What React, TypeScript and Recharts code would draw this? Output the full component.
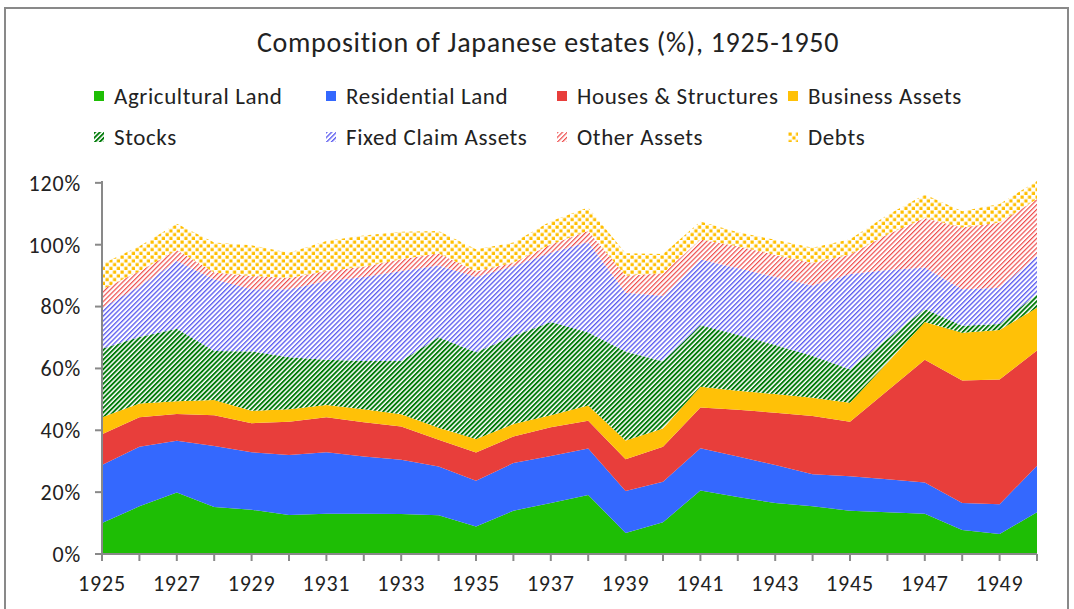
import React from 'react';
import { AreaChart, Area, XAxis, YAxis } from 'recharts';

const years = [1925, 1926, 1927, 1928, 1929, 1930, 1931, 1932, 1933, 1934, 1935, 1936, 1937, 1938, 1939, 1940, 1941, 1942, 1943, 1944, 1945, 1946, 1947, 1948, 1949, 1950];

const agricultural = [10.0, 15.4, 19.9, 15.2, 14.3, 12.6, 13.0, 13.0, 12.9, 12.5, 8.9, 14.0, 16.5, 19.1, 6.8, 10.3, 20.5, 18.4, 16.5, 15.4, 14.0, 13.5, 13.0, 7.8, 6.5, 13.5];
const residential = [18.8, 19.3, 16.7, 19.7, 18.6, 19.4, 19.9, 18.5, 17.6, 15.8, 14.8, 15.4, 15.2, 15.0, 13.6, 13.1, 13.7, 13.1, 12.3, 10.4, 11.1, 10.7, 10.1, 8.7, 9.6, 15.0];
const houses = [9.9, 9.5, 8.7, 10.0, 9.4, 10.8, 11.3, 11.1, 10.7, 8.6, 9.1, 8.6, 9.3, 9.0, 10.2, 11.3, 13.2, 15.1, 16.9, 18.8, 17.7, 28.6, 39.7, 39.6, 40.3, 37.3];
const business = [5.5, 4.5, 4.1, 4.9, 4.0, 4.0, 4.0, 4.2, 4.0, 3.9, 4.4, 4.0, 3.9, 4.9, 6.1, 5.9, 6.7, 6.2, 6.0, 5.9, 6.1, 9.0, 12.2, 15.4, 16.0, 13.8];
const stocks = [22.2, 21.5, 23.4, 15.8, 19.2, 16.8, 14.6, 15.6, 17.2, 29.3, 28.0, 28.5, 30.1, 23.6, 28.8, 21.7, 19.9, 18.0, 15.9, 13.5, 10.8, 7.7, 4.2, 2.3, 2.0, 4.4];
const fixedClaim = [13.1, 16.4, 21.9, 23.2, 20.1, 22.0, 25.5, 27.2, 29.1, 23.2, 24.4, 22.5, 22.4, 29.3, 19.0, 21.2, 21.3, 21.6, 22.0, 22.8, 30.8, 22.3, 13.4, 11.8, 11.7, 12.4];
const otherAssets = [6.0, 4.8, 3.6, 2.2, 4.3, 3.6, 3.2, 3.3, 3.8, 3.9, 1.7, 1.2, 2.7, 3.5, 5.5, 7.3, 6.4, 7.1, 7.1, 7.3, 6.3, 11.5, 16.0, 20.0, 21.1, 18.4];
const debts = [8.3, 8.1, 8.5, 9.7, 9.9, 8.2, 9.7, 10.1, 8.9, 7.2, 7.2, 6.5, 7.5, 7.6, 7.2, 6.2, 5.8, 4.5, 4.9, 4.9, 5.0, 6.3, 7.6, 5.2, 6.0, 5.8];

const yTicks = [0, 20, 40, 60, 80, 100, 120];
const xLabelYears = [1925, 1927, 1929, 1931, 1933, 1935, 1937, 1939, 1941, 1943, 1945, 1947, 1949];

const data = years.map((year, i) => ({
  year,
  agricultural: agricultural[i],
  residential: residential[i],
  houses: houses[i],
  business: business[i],
  stocks: stocks[i],
  fixedClaim: fixedClaim[i],
  otherAssets: otherAssets[i],
  debts: debts[i],
}));

const FONT = 'Carlito, Calibri, Lato, sans-serif';
const AXIS = '#898989';

type SeriesDef = { key: string; name: string; fill: string; pattern?: string };

const series: SeriesDef[] = [
  { key: 'agricultural', name: 'Agricultural Land', fill: '#1EBE05' },
  { key: 'residential', name: 'Residential Land', fill: '#3468FE' },
  { key: 'houses', name: 'Houses & Structures', fill: '#E83E3B' },
  { key: 'business', name: 'Business Assets', fill: '#FFC107' },
  { key: 'stocks', name: 'Stocks', fill: '#00800A', pattern: 'stripeGreen' },
  { key: 'fixedClaim', name: 'Fixed Claim Assets', fill: '#5A5AF0', pattern: 'stripeBlue' },
  { key: 'otherAssets', name: 'Other Assets', fill: '#EE4B4B', pattern: 'stripeRed' },
  { key: 'debts', name: 'Debts', fill: '#FFC000', pattern: 'confetti' },
];

function Patterns({ prefix }: { prefix: string }) {
  return (
    <defs>
      <pattern id={`${prefix}stripeGreen`} patternUnits="userSpaceOnUse" width="3.4" height="3.4" patternTransform="rotate(45)">
        <rect x="0" y="0" width="3.4" height="3.4" fill="#ffffff" />
        <rect x="0" y="0" width="1.9" height="3.4" fill="#007A08" />
      </pattern>
      <pattern id={`${prefix}stripeBlue`} patternUnits="userSpaceOnUse" width="3.4" height="3.4" patternTransform="rotate(45)">
        <rect x="0" y="0" width="3.4" height="3.4" fill="#ffffff" />
        <rect x="0" y="0" width="1.35" height="3.4" fill="#5C5CF0" />
      </pattern>
      <pattern id={`${prefix}stripeRed`} patternUnits="userSpaceOnUse" width="3.4" height="3.4" patternTransform="rotate(45)">
        <rect x="0" y="0" width="3.4" height="3.4" fill="#ffffff" />
        <rect x="0" y="0" width="1.2" height="3.4" fill="#EE4C4C" />
      </pattern>
      <pattern id={`${prefix}confetti`} patternUnits="userSpaceOnUse" width="7.5" height="7.5">
        <rect x="0" y="0" width="7.5" height="7.5" fill="#ffffff" />
        <rect x="0.5" y="0.5" width="3.2" height="3.2" fill="#FFBE00" />
        <rect x="4.3" y="4.3" width="3.2" height="3.2" fill="#FFBE00" />
      </pattern>
    </defs>
  );
}

const legendLefts = [114, 346, 577, 808];
const legendTops = [96, 137];

function Legend() {
  return (
    <>
      {series.map((s, i) => {
        const col = i % 4;
        const row = Math.floor(i / 4);
        const left = legendLefts[col];
        const cy = legendTops[row];
        const pid = `lg${i}`;
        return (
          <div key={s.key} style={{ position: 'absolute', left: left - 20, top: cy - 13, height: 26, display: 'flex', alignItems: 'center', whiteSpace: 'nowrap' }}>
            <svg width="10" height="10" style={{ marginRight: 10, display: 'block' }}>
              <Patterns prefix={pid} />
              <rect x="0" y="0" width="10" height="10" fill={s.pattern ? `url(#${pid}${s.pattern})` : s.fill} />
            </svg>
            <span style={{ fontFamily: FONT, fontSize: 23, letterSpacing: 0.6, color: '#222', lineHeight: '26px' }}>{s.name}</span>
          </div>
        );
      })}
    </>
  );
}

const tickStyle = { fontSize: 22, fill: '#222', fontFamily: FONT, letterSpacing: 0.8 };

export default function App() {
  return (
    <div style={{ position: 'absolute', left: 0, top: 0, width: 1074, height: 609, background: '#ffffff', overflow: 'hidden' }}>
      <div style={{ position: 'absolute', left: 4, top: 7, width: 1065, height: 640, border: `2px solid ${AXIS}`, boxSizing: 'border-box' }} />
      <div style={{ position: 'absolute', left: 0, top: 26, width: 1096, textAlign: 'center', fontFamily: FONT, fontSize: 28, letterSpacing: 0.7, lineHeight: '34px', color: '#222' }}>
        Composition of Japanese estates (%), 1925-1950
      </div>
      <Legend />
      <div style={{ position: 'absolute', left: 0, top: 0 }}>
        <AreaChart width={1074} height={609} data={data} margin={{ top: 181, right: 37, bottom: 15, left: 42 }}>
          <Patterns prefix="ch" />
          <XAxis
            dataKey="year"
            type="number"
            domain={[1925, 1950]}
            ticks={years}
            interval={0}
            tickFormatter={(v: number) => (xLabelYears.includes(v) ? String(v) : '')}
            tick={tickStyle}
            axisLine={{ stroke: AXIS, strokeWidth: 2 }}
            tickLine={{ stroke: AXIS, strokeWidth: 2 }}
            tickSize={7}
            tickMargin={14}
            height={40}
          />
          <YAxis
            type="number"
            domain={[0, 120]}
            ticks={yTicks}
            interval={0}
            tickFormatter={(v: number) => `${v}%`}
            tick={tickStyle}
            axisLine={{ stroke: AXIS, strokeWidth: 2 }}
            tickLine={{ stroke: AXIS, strokeWidth: 2 }}
            tickSize={7}
            tickMargin={14}
            width={60}
          />
          {series.map((s) => (
            <Area
              key={s.key}
              type="linear"
              dataKey={s.key}
              name={s.name}
              stackId="1"
              stroke="none"
              fill={s.pattern ? `url(#ch${s.pattern})` : s.fill}
              fillOpacity={1}
              dot={false}
              activeDot={false}
              isAnimationActive={false}
            />
          ))}
        </AreaChart>
      </div>
    </div>
  );
}
